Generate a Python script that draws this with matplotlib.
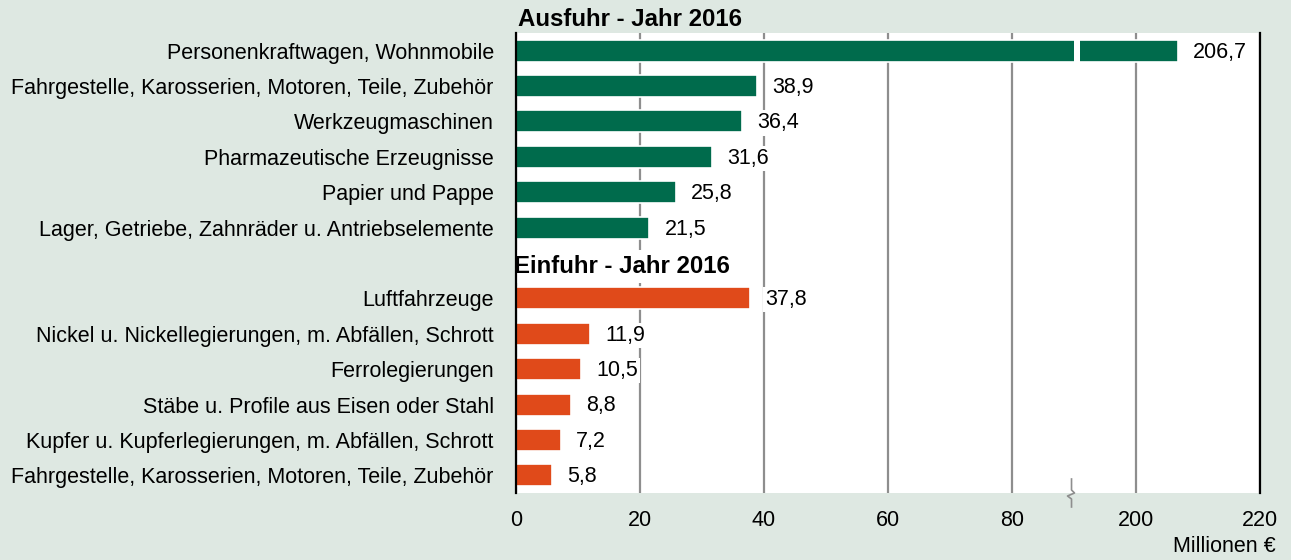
import numpy as np
import matplotlib
matplotlib.use("Agg")
from matplotlib import pyplot as plt
from matplotlib import transforms
from matplotlib.lines import Line2D

plt.rcParams['font.family'] = ['Liberation Sans', 'DejaVu Sans']

export_title = "Ausfuhr - Jahr 2016"
export_labels = ["Personenkraftwagen, Wohnmobile",
                 "Fahrgestelle, Karosserien, Motoren, Teile, Zubehör",
                 "Werkzeugmaschinen",
                 "Pharmazeutische Erzeugnisse",
                 "Papier und Pappe",
                 "Lager, Getriebe, Zahnräder u. Antriebselemente"]
export_values = [206.7, 38.9, 36.4, 31.6, 25.8, 21.5]

import_title = "Einfuhr - Jahr 2016"
import_labels = ["Luftfahrzeuge",
                 "Nickel u. Nickellegierungen, m. Abfällen, Schrott",
                 "Ferrolegierungen",
                 "Stäbe u. Profile aus Eisen oder Stahl",
                 "Kupfer u. Kupferlegierungen, m. Abfällen, Schrott",
                 "Fahrgestelle, Karosserien, Motoren, Teile, Zubehör"]
import_values = [37.8, 11.9, 10.5, 8.8, 7.2, 5.8]

x_ticks = [0, 20, 40, 60, 80, 200, 220]
unit = "Millionen €"

bg = "#dee8e2"
green = "#006b4c"
orange = "#e04a1a"
grid_col = "#8e8e8e"
fs = 15.5

# broken axis: 90..191 squeezed into one unit
brk_lo, brk_hi = 90, 191
xp = [-1000, brk_lo, brk_hi, 2000]
fp = [-1000, brk_lo, brk_lo + 1, 2000 - 100]

def fwd(v):
    return np.interp(v, xp, fp)

def inv(v):
    return np.interp(v, fp, xp)

def fmt(v):
    return f"{v:.1f}".replace(".", ",")

fig = plt.figure(figsize=(12.91, 5.6), dpi=100, facecolor=bg)
ax = fig.add_axes([516/1291, 1 - 493/560, (1260 - 516)/1291, (493 - 33)/560])
ax.set_facecolor("white")
ax.set_xscale("function", functions=(fwd, inv))

n_exp = len(export_values)
y_exp = np.arange(1, n_exp + 1)
y_head_imp = n_exp + 1
y_imp = np.arange(n_exp + 2, n_exp + 2 + len(import_values))

ax.barh(y_exp, export_values, height=0.62, color=green, edgecolor="white", linewidth=1.2, zorder=2)
ax.barh(y_imp, import_values, height=0.62, color=orange, edgecolor="white", linewidth=1.2, zorder=2)

# gap in the long bar
for y, v in zip(y_exp, export_values):
    if v > brk_hi:
        ax.barh(y, brk_hi - brk_lo, left=brk_lo, height=0.7, color="white", zorder=3)

for ys, vals in [(y_exp, export_values), (y_imp, import_values)]:
    for y, v in zip(ys, vals):
        ax.annotate(fmt(v), (v, y), xytext=(11, -1), textcoords="offset points",
                    ha="left", va="center", fontsize=fs, zorder=4,
                    bbox=dict(boxstyle="square,pad=0.1", fc="white", ec="none"))

ax.set_yticks(list(y_exp) + list(y_imp))
ax.set_yticklabels(export_labels + import_labels, fontsize=fs)
ax.set_ylim(len(export_values) + len(import_values) + 1.5, 0.5)
ax.set_xlim(0, 220)
ax.set_xticks(x_ticks)
ax.set_xticklabels([str(t) for t in x_ticks], fontsize=fs)
ax.tick_params(axis="y", length=0, pad=16)
ax.tick_params(axis="x", length=0, pad=12)

ax.grid(axis="x", color=grid_col, linewidth=1.6)
ax.set_axisbelow(True)
for s in ["top", "bottom"]:
    ax.spines[s].set_visible(False)
ax.spines["left"].set_linewidth(1.6)
ax.spines["right"].set_linewidth(1.6)

ax.text(0.3, 0.13, export_title, fontsize=17.3, fontweight="bold", ha="left", va="center",
        clip_on=False)
ax.text(-0.3, y_head_imp + 0.1, import_title, fontsize=17.3, fontweight="bold", ha="left",
        va="center", zorder=2.2, clip_on=True,
        bbox=dict(boxstyle="square,pad=0.2", fc="white", ec="none"))

# break mark on the axis (pixel offsets around the axis bottom)
fig.canvas.draw()
base = ax.transData.transform((brk_lo - 0.4, ax.get_ylim()[0]))
sq_x = np.array([0, 0, 3, -4, 0, 0])
sq_y = np.array([14, 3, 0, -3, -6, -14])
ax.add_line(Line2D(sq_x + base[0], sq_y + base[1], color=grid_col, linewidth=1.2,
                   transform=transforms.IdentityTransform(), clip_on=False, zorder=5))

fig.text(1276/1291, 1 - 546/560, unit, ha="right", va="center", fontsize=fs)

fig.savefig("out.png", dpi=100, facecolor=bg)
